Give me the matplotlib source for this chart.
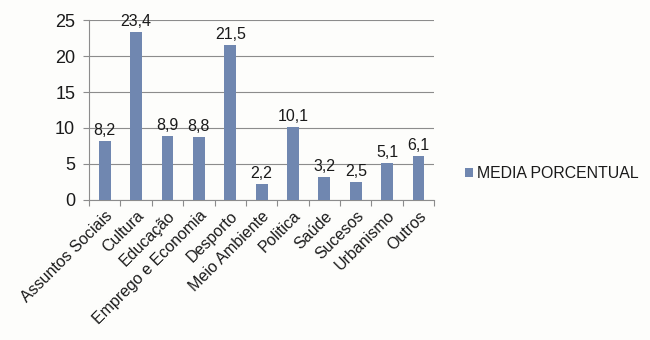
import numpy as np
import matplotlib.pyplot as plt

plt.rcParams['font.family'] = ['Liberation Sans', 'DejaVu Sans']

# data
categories = ['Assuntos Sociais', 'Cultura', 'Educação', 'Emprego e Economia',
              'Desporto', 'Meio Ambiente', 'Politica', 'Saúde', 'Sucesos',
              'Urbanismo', 'Outros']
values = [8.2, 23.4, 8.9, 8.8, 21.5, 2.2, 10.1, 3.2, 2.5, 5.1, 6.1]
series_name = 'MEDIA PORCENTUAL'

bg = '#fdfdfb'
bar_color = '#7087b0'
text_color = '#1a1a1a'

fig = plt.figure(figsize=(6.5, 3.4), dpi=100, facecolor=bg)
ax = fig.add_axes([0.137, 0.412, 0.531, 0.529], facecolor=bg)

x = np.arange(len(categories))
bars = ax.bar(x, values, width=0.38, color=bar_color, label=series_name, zorder=3)

for xi, v in zip(x, values):
    ax.annotate(f'{v:.1f}'.replace('.', ','), (xi, v), xytext=(0, 2),
                textcoords='offset points', ha='center', va='bottom',
                fontsize=11.5, color=text_color, zorder=4)

ax.set_xlim(-0.5, len(categories) - 0.5)
ax.set_ylim(0, 25)
ax.set_yticks(np.arange(0, 26, 5))
ax.yaxis.grid(True, color='#8c8c8c', linewidth=0.8, zorder=0)

# category boundary ticks on the x axis, labels centred under each bar
ax.set_xticks(np.arange(-0.5, len(categories)), minor=False)
ax.set_xticklabels([])
ax.set_xticks(x, minor=True)
ax.set_xticklabels(categories, minor=True, rotation=45, ha='right',
                   rotation_mode='anchor', fontsize=11.5, color=text_color)
ax.tick_params(axis='x', which='major', length=4, color='#8c8c8c', direction='out')
ax.tick_params(axis='x', which='minor', length=0, pad=6)
ax.tick_params(axis='y', length=4, color='#8c8c8c', labelsize=13, labelcolor=text_color, pad=6)

for side in ['top', 'right']:
    ax.spines[side].set_visible(False)
for side in ['left', 'bottom']:
    ax.spines[side].set_color('#8c8c8c')
    ax.spines[side].set_linewidth(0.8)

leg = fig.legend(handles=[bars], labels=[series_name], loc='center left',
                 bbox_to_anchor=(0.693, 0.49), frameon=False, fontsize=11.4,
                 handlelength=0.55, handleheight=0.55, handletextpad=0.25,
                 labelcolor=text_color)

fig.savefig('out.png', dpi=100, facecolor=bg)
